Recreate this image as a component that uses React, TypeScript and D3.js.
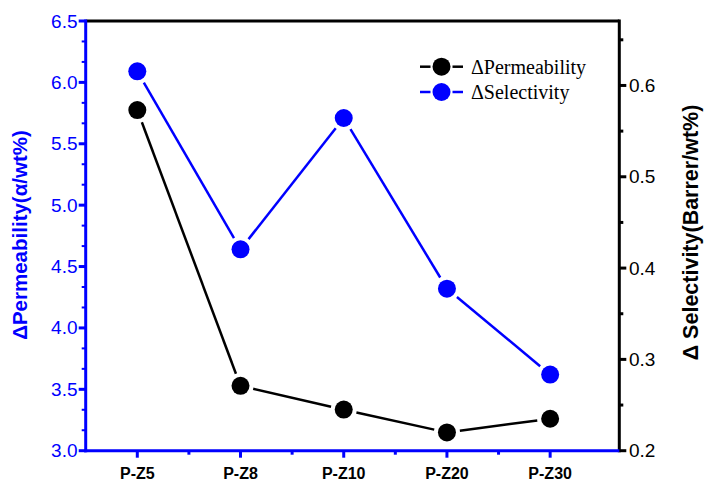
import React from "react";
import * as d3 from "d3";

const categories = ["P-Z5", "P-Z8", "P-Z10", "P-Z20", "P-Z30"];
const permeability = [0.573, 0.271, 0.245, 0.22, 0.235]; // right axis (black)
const selectivity = [6.09, 4.64, 5.71, 4.32, 3.62]; // left axis (blue)
const leftTicks = [3.0, 3.5, 4.0, 4.5, 5.0, 5.5, 6.0, 6.5];
const rightTicks = [0.2, 0.3, 0.4, 0.5, 0.6];
const legendLabels = ["\u0394Permeability", "\u0394Selectivity"];

const W = 706, H = 485;
const X0 = 85.7, X1 = 619.3, Y0 = 450.7, Y1 = 21;
const BLUE = "#0000ff";

export default function App() {
  const x = d3.scaleLinear().domain([0.5, 5.67]).range([X0, X1]);
  const yL = d3.scaleLinear().domain([3.0, 6.5]).range([Y0, Y1]);
  const yR = d3.scaleLinear().domain([0.2, 0.6706]).range([Y0, Y1]);
  const r = 9;
  const gap = 13;

  const segs = (pts: [number, number][]) => {
    const out: { x1: number; y1: number; x2: number; y2: number }[] = [];
    for (let i = 0; i < pts.length - 1; i++) {
      const [ax, ay] = pts[i];
      const [bx, by] = pts[i + 1];
      const dx = bx - ax, dy = by - ay;
      const len = Math.hypot(dx, dy);
      const ux = dx / len, uy = dy / len;
      out.push({ x1: ax + ux * gap, y1: ay + uy * gap, x2: bx - ux * gap, y2: by - uy * gap });
    }
    return out;
  };

  const bluePts: [number, number][] = selectivity.map((v, i) => [x(i + 1), yL(v)]);
  const blackPts: [number, number][] = permeability.map((v, i) => [x(i + 1), yR(v)]);

  const leftMinor: number[] = [];
  for (let i = 0; i < leftTicks.length - 1; i++) {
    leftMinor.push(leftTicks[i] + 0.5 / 3, leftTicks[i] + 1 / 3);
  }
  const rightMinor = [0.25, 0.35, 0.45, 0.55, 0.65];
  const xMinor = [1.5, 2.5, 3.5, 4.5];

  const legendX = 420, legendX2 = 463, legendY = [66.7, 92];
  const legendColors = ["#000", BLUE];

  return (
    <svg width={W} height={H} style={{ position: "absolute", left: 0, top: 0, background: "#fff" }}
      fontFamily="Liberation Sans, Arial, sans-serif">
      <rect x={0} y={0} width={W} height={H} fill="#fff" />
      {/* top & right frame */}
      <line x1={X0} x2={X1} y1={Y1} y2={Y1} stroke="#000" strokeWidth={3} />
      <line x1={X1} x2={X1} y1={Y1 - 1.5} y2={Y0 + 1.5} stroke="#000" strokeWidth={3} />
      {/* right ticks */}
      {rightTicks.map((t) => (
        <g key={"rt" + t}>
          <line x1={X1} x2={X1 + 7} y1={yR(t)} y2={yR(t)} stroke="#000" strokeWidth={3} />
          <text x={629} y={yR(t) + 6.5} fontSize={19} fill="#000">{t.toFixed(1)}</text>
        </g>
      ))}
      {rightMinor.map((t) => (
        <line key={"rm" + t} x1={X1} x2={X1 + 4} y1={yR(t)} y2={yR(t)} stroke="#000" strokeWidth={3} />
      ))}
      {/* left axis */}
      <line x1={X0} x2={X0} y1={Y1 - 1.5} y2={Y0 + 1.5} stroke={BLUE} strokeWidth={3} />
      {leftTicks.map((t) => (
        <g key={"lt" + t}>
          <line x1={X0 - 7} x2={X0} y1={yL(t)} y2={yL(t)} stroke={BLUE} strokeWidth={3} />
          <text x={77.5} y={yL(t) + 6.5} fontSize={19} fill={BLUE} textAnchor="end">{t.toFixed(1)}</text>
        </g>
      ))}
      {leftMinor.map((t, i) => (
        <line key={"lm" + i} x1={X0 - 4} x2={X0} y1={yL(t)} y2={yL(t)} stroke={BLUE} strokeWidth={2} />
      ))}
      {/* bottom axis */}
      <line x1={X0 - 1.5} x2={X1} y1={Y0} y2={Y0} stroke={BLUE} strokeWidth={3} />
      {categories.map((c, i) => (
        <g key={c}>
          <line x1={x(i + 1)} x2={x(i + 1)} y1={Y0} y2={Y0 + 7} stroke={BLUE} strokeWidth={3} />
          <text x={x(i + 1)} y={479} fontSize={16} fontWeight="bold" textAnchor="middle" fill="#000">{c}</text>
        </g>
      ))}
      {xMinor.map((t) => (
        <line key={"xm" + t} x1={x(t)} x2={x(t)} y1={Y0} y2={Y0 + 4} stroke={BLUE} strokeWidth={3} />
      ))}
      {/* axis titles */}
      <text transform={`translate(27,235) rotate(-90)`} fontSize={20.5} fontWeight="bold" fill={BLUE} textAnchor="middle">
        {"\u0394Permeability(\u03b1/wt%)"}
      </text>
      <text transform={`translate(698,232.5) rotate(-90)`} fontSize={21.5} fontWeight="bold" fill="#000" textAnchor="middle">
        {"\u0394 Selectivity(Barrer/wt%)"}
      </text>
      {/* series lines */}
      {segs(blackPts).map((s, i) => (
        <line key={"bs" + i} {...s} stroke="#000" strokeWidth={2.5} />
      ))}
      {segs(bluePts).map((s, i) => (
        <line key={"us" + i} {...s} stroke={BLUE} strokeWidth={2.5} />
      ))}
      {blackPts.map(([px, py], i) => (
        <circle key={"bc" + i} cx={px} cy={py} r={r} fill="#000" />
      ))}
      {bluePts.map(([px, py], i) => (
        <circle key={"uc" + i} cx={px} cy={py} r={r} fill={BLUE} />
      ))}
      {/* legend */}
      {legendLabels.map((l, i) => {
        const cx = (legendX + legendX2) / 2;
        return (
          <g key={l}>
            <line x1={legendX} x2={cx - 11} y1={legendY[i]} y2={legendY[i]} stroke={legendColors[i]} strokeWidth={2.5} />
            <line x1={cx + 11} x2={legendX2} y1={legendY[i]} y2={legendY[i]} stroke={legendColors[i]} strokeWidth={2.5} />
            <circle cx={cx} cy={legendY[i]} r={9} fill={legendColors[i]} />
            <text x={471} y={legendY[i] + 7} fontSize={20} fontFamily="Liberation Serif, Times New Roman, serif" fill="#000">{l}</text>
          </g>
        );
      })}
    </svg>
  );
}
